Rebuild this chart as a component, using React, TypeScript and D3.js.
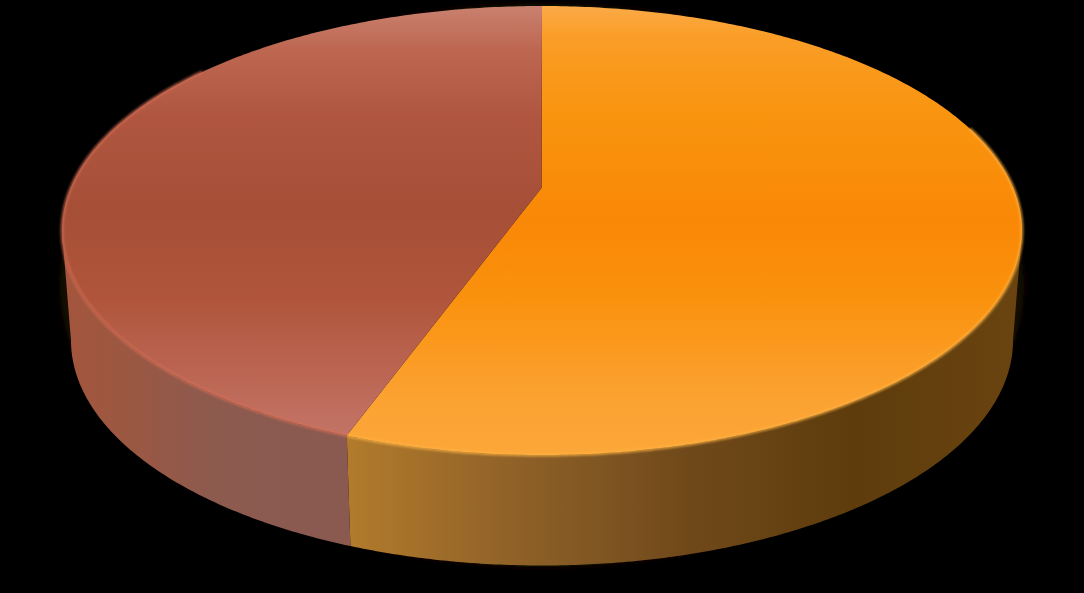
import React from 'react';
import * as d3 from 'd3';

// Two slices (clockwise from 12 o'clock)
const categories = ['Series A', 'Series B'];
const values = [17, 13];

// colours per slice: top face stops (top -> front) and side stops (left -> right)
const topStops = [
  ['#fbaa48', '#fa9e28', '#f99510', '#f98806', '#fa920e', '#fba232', '#fca739'],
  ['#c9816f', '#bd6650', '#b05640', '#a64f37', '#b0553b', '#bf6c5c', '#c4786b'],
];
const topOffsets = [
  [0, 0.065, 0.23, 0.48, 0.655, 0.877, 1],
  [0, 0.1, 0.25, 0.45, 0.65, 0.88, 1],
];
const sideStops = [
  ['#b27b2c', '#8f6128', '#70491a', '#5e3c0c', '#6a4410'],
  ['#a5553c', '#9a5843', '#8e5a4e', '#8a5a50', '#8a5a50'],
];
const rimColors = ['#ffb444', '#d66d55'];

const W = 1084;
const H = 593;
// ellipse geometry of the top face and of the bottom edge
const cx = 542;
const cy = 230.5;
const rx = 480;
const ry = 224.5;
const depth = 110;
const rxBottom = 471;
const ryBottom = 225;
// perspective: the pie centre appears above the ellipse centre
const vertex = { x: 541.5, y: 188 };

const onTop = (a: number): [number, number] => [cx + rx * Math.sin(a), cy - ry * Math.cos(a)];
const onBottom = (a: number): [number, number] => [
  cx + rxBottom * Math.sin(a),
  cy + depth - ryBottom * Math.cos(a),
];

const sample = (a0: number, a1: number, f: (a: number) => [number, number]) => {
  const n = Math.max(2, Math.ceil(Math.abs(a1 - a0) / 0.01));
  return d3.range(n + 1).map(i => f(a0 + ((a1 - a0) * i) / n));
};

const line = d3.line<[number, number]>().curve(d3.curveLinear);

const App: React.FC = () => {
  const arcs = d3.pie<number>().sort(null).startAngle(0).endAngle(2 * Math.PI)(values);

  const tops = arcs.map(a => {
    const pts: [number, number][] = [[vertex.x, vertex.y], ...sample(a.startAngle, a.endAngle, onTop)];
    return line(pts) + 'Z';
  });

  const sides = arcs.map(a => {
    const s = Math.max(a.startAngle, Math.PI / 2);
    const e = Math.min(a.endAngle, (3 * Math.PI) / 2);
    if (s >= e) return null;
    const pts = [...sample(s, e, onTop), ...sample(e, s, onBottom)];
    return { d: line(pts) + 'Z', s, e };
  });

  const rims = arcs.map(a => {
    const s = Math.max(a.startAngle, Math.PI * 0.35);
    const e = Math.min(a.endAngle, Math.PI * 1.75);
    if (s >= e) return null;
    return line(sample(s, e, onTop));
  });

  return (
    <div style={{ position: 'fixed', left: 0, top: 0, width: W, height: H, background: '#000' }}>
      <svg width={W} height={H} style={{ display: 'block' }}>
        <defs>
          {topStops.map((stops, i) => (
            <linearGradient key={i} id={`top${i}`} gradientUnits="userSpaceOnUse" x1={0} y1={cy - ry} x2={0} y2={cy + ry}>
              {stops.map((c, j) => (
                <stop key={j} offset={topOffsets[i][j]} stopColor={c} />
              ))}
            </linearGradient>
          ))}
          {sideStops.map((stops, i) => (
            <linearGradient key={i} id={`side${i}`} gradientUnits="userSpaceOnUse"
              x1={i === 0 ? 348 : 62} y1={0} x2={i === 0 ? 1022 : 350} y2={0}>
              {stops.map((c, j) => (
                <stop key={j} offset={j / (stops.length - 1)} stopColor={c} />
              ))}
            </linearGradient>
          ))}
          <filter id="soft" x="-5%" y="-5%" width="110%" height="110%">
            <feGaussianBlur stdDeviation="1.2" />
          </filter>
          <filter id="glow" x="-10%" y="-10%" width="120%" height="120%">
            <feGaussianBlur stdDeviation="3" />
          </filter>
        </defs>

        {/* faint dark halo behind the pie */}
        <ellipse cx={cx} cy={cy + depth / 2} rx={rx + 2} ry={ry + depth / 2 + 2} fill="#120c06" filter="url(#glow)" />

        {sides.map((s, i) =>
          s ? <path key={`s${i}`} d={s.d} fill={`url(#side${i})`} /> : null
        )}

        {tops.map((d, i) => (
          <path key={`t${i}`} d={d} fill={`url(#top${i})`}>
            <title>{`${categories[i]}: ${values[i]}`}</title>
          </path>
        ))}

        {rims.map((d, i) =>
          d ? (
            <path key={`r${i}`} d={d!} fill="none" stroke={rimColors[i]} strokeWidth={3}
              strokeOpacity={0.7} filter="url(#soft)" />
          ) : null
        )}
      </svg>
    </div>
  );
};

export default App;
